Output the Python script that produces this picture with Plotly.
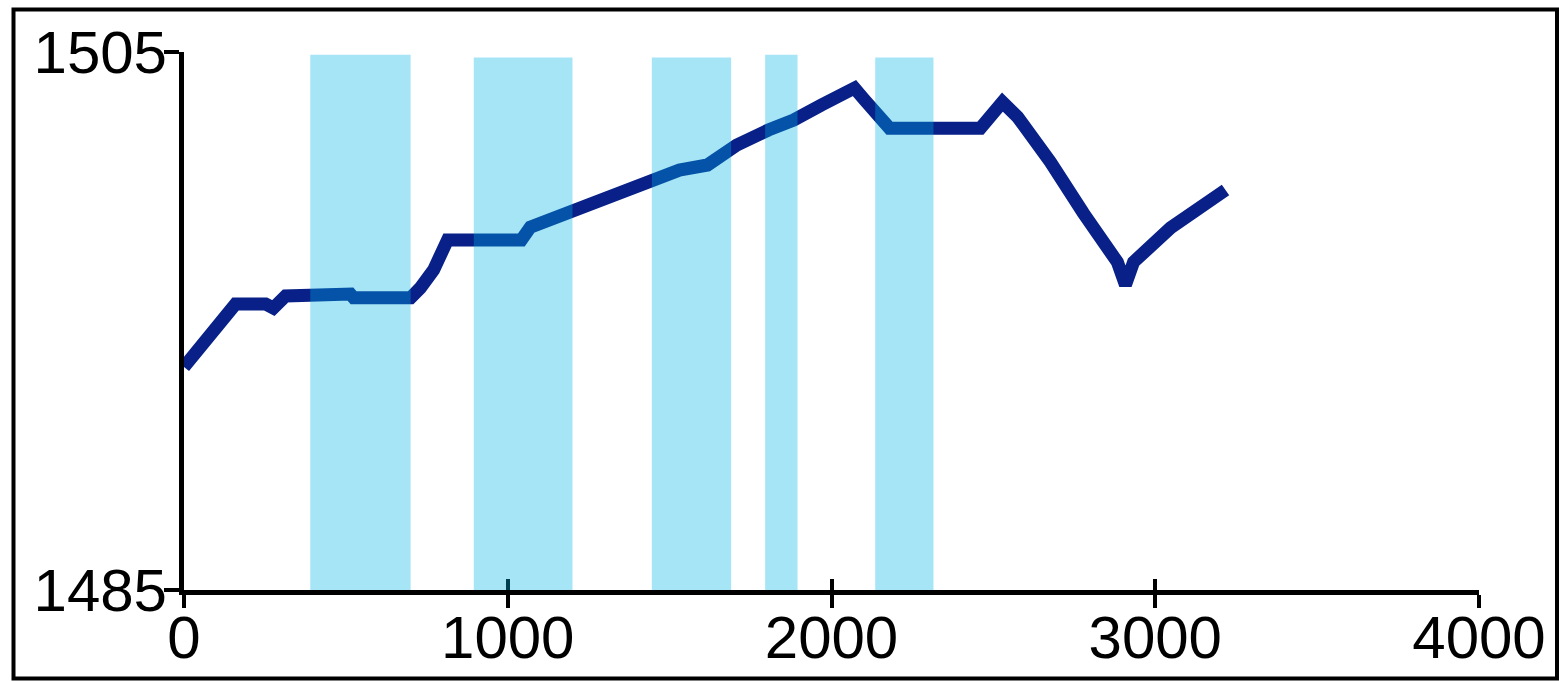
import plotly.graph_objects as go

# ---- data ----
x_vals = [0, 159, 252, 276, 314, 514, 524, 700, 730, 771, 814, 1042, 1070, 1188,
          1441, 1530, 1617, 1707, 1805, 1883, 1969, 2071, 2102, 2179, 2460, 2528,
          2575, 2676, 2778, 2883, 2908, 2933, 3047, 3217]
y_vals = [1493.29, 1495.63, 1495.63, 1495.48, 1495.93, 1496.0, 1495.86, 1495.86,
          1496.23, 1496.9, 1498.01, 1498.01, 1498.49, 1499.05, 1500.17, 1500.61,
          1500.8, 1501.54, 1502.1, 1502.47, 1503.03, 1503.66, 1503.22, 1502.17,
          1502.17, 1503.14, 1502.58, 1500.91, 1499.01, 1497.19, 1496.34, 1497.19,
          1498.46, 1499.87]

band_start = [390, 895, 1445, 1795, 2135]
band_end = [700, 1200, 1690, 1895, 2315]
band_top = [1504.9, 1504.8, 1504.8, 1504.9, 1504.8]
band_bottom = 1485

x_ticks = [0, 1000, 2000, 3000, 4000]
y_ticks = [1485, 1505]

# ---- figure ----
W, H = 1559, 681
L, R, T, B = 184, 80, 52, 91
FONT = dict(family="Liberation Sans, Arial, sans-serif", size=60, color="black")

fig = go.Figure()
fig.add_trace(go.Scatter(
    x=x_vals, y=y_vals, mode="lines",
    line=dict(color="rgb(8,32,135)", width=13),
    hoverinfo="skip", showlegend=False, cliponaxis=False,
))
# invisible trace on overlay axes
fig.add_trace(go.Scatter(x=[], y=[], xaxis="x2", yaxis="y2", showlegend=False))

shapes = []
for s, e, t in zip(band_start, band_end, band_top):
    shapes.append(dict(type="rect", xref="x", yref="y", x0=s, x1=e, y0=band_bottom, y1=t,
                       fillcolor="rgba(0,180,228,0.35)", line=dict(width=0), layer="above"))

pw = W - L - R
ph = H - T - B
def px2paper_x(p):
    return (p - L) / pw
def px2paper_y(p):
    return (H - B - p) / ph

shapes.append(dict(type="rect", xref="paper", yref="paper",
                   x0=px2paper_x(13.5), x1=px2paper_x(1557), y0=px2paper_y(678.5), y1=px2paper_y(9.5),
                   line=dict(color="black", width=4), fillcolor="rgba(0,0,0,0)", layer="above"))

fig.update_layout(
    width=W, height=H,
    margin=dict(l=L, r=R, t=T, b=B, pad=0),
    paper_bgcolor="white", plot_bgcolor="white",
    shapes=shapes,
    xaxis=dict(range=[0, 4000], tickvals=x_ticks, ticktext=[str(v) for v in x_ticks],
               showgrid=False, zeroline=False, showline=True, linecolor="black", linewidth=5,
               ticks="outside", ticklen=13, tickwidth=4, tickcolor="black",
               tickfont=FONT, fixedrange=True, automargin=False, ticklabelstandoff=-22),
    yaxis=dict(range=[1485, 1505], tickvals=y_ticks, ticktext=[str(v) for v in y_ticks],
               showgrid=False, zeroline=False, showline=True, linecolor="black", linewidth=5,
               ticks="outside", ticklen=15, tickwidth=4, tickcolor="black",
               tickfont=FONT, fixedrange=True, automargin=False, ticklabelstandoff=-15),
    xaxis2=dict(overlaying="x", anchor="y", side="bottom", range=[0, 4000], tickvals=x_ticks,
                showticklabels=False, showgrid=False, zeroline=False, showline=False,
                ticks="inside", ticklen=11, tickwidth=4, tickcolor="black", automargin=False),
    yaxis2=dict(overlaying="y", anchor="x", side="left", range=[1485, 1505], tickvals=[1505],
                showticklabels=False, showgrid=False, zeroline=False, showline=False,
                ticks="inside", ticklen=10, tickwidth=4, tickcolor="black", automargin=False),
)

fig.write_html("out.html")
